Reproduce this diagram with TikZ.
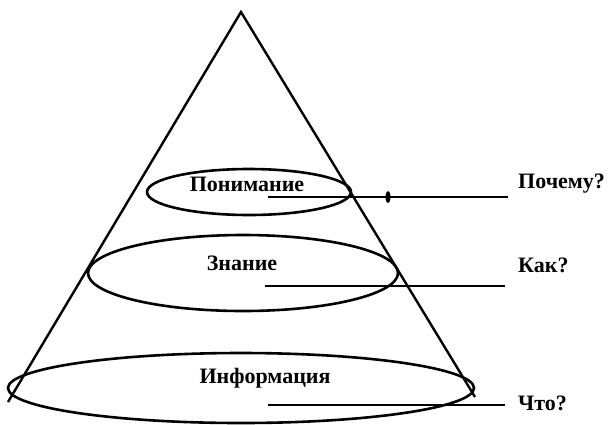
\documentclass[tikz,border=0pt]{standalone}
\usepackage{fontspec}
\setmainfont{Liberation Serif}
\usetikzlibrary{shapes.geometric}
\begin{document}
\begin{tikzpicture}[x=1pt,y=-1pt,
  cone/.style={line width=2.4pt},
  level/.style={draw, ellipse, line width=2.6pt, inner sep=0pt},
  lbl/.style={font=\bfseries\fontsize{22}{26}\selectfont, inner sep=0pt},
  conn/.style={line width=2.2pt}]
\useasboundingbox (0,0) rectangle (609,424);
% cone
\coordinate (apex) at (241,12);
\coordinate (lend) at (8,402);
\coordinate (rend) at (475,397);
% levels
\node[level, minimum width=204pt, minimum height=46pt] (e1) at (249,192) {};
\node[level, minimum width=310pt, minimum height=76pt] (e2) at (243,273) {};
\node[level, minimum width=466pt, minimum height=70pt] (e3) at (241,388) {};
\draw[cone] (lend) -- (apex) -- (rend);
% texts
\node[lbl] (t1) at (247,184) {Понимание};
\node[lbl] (t2) at (242,263) {Знание};
\node[lbl] (t3) at (265,378) {Информация};
\node[lbl, anchor=west] (q1) at (518,184) {Почему?};
\node[lbl, anchor=west] (q2) at (518,265) {Как?};
\node[lbl, anchor=west] (q3) at (518,403) {Что?};
% connectors
\coordinate (s1) at (268,197); \coordinate (f1) at (508,197);
\coordinate (s2) at (265,286); \coordinate (f2) at (505,286);
\coordinate (s3) at (268,405); \coordinate (f3) at (505,405);
\coordinate (m1) at (388,197);
\draw[conn] (s1) -- (f1);
\draw[conn] (s2) -- (f2);
\draw[conn] (s3) -- (f3);
\fill (m1) ellipse [x radius=2.5pt, y radius=6pt];
\end{tikzpicture}
\end{document}
